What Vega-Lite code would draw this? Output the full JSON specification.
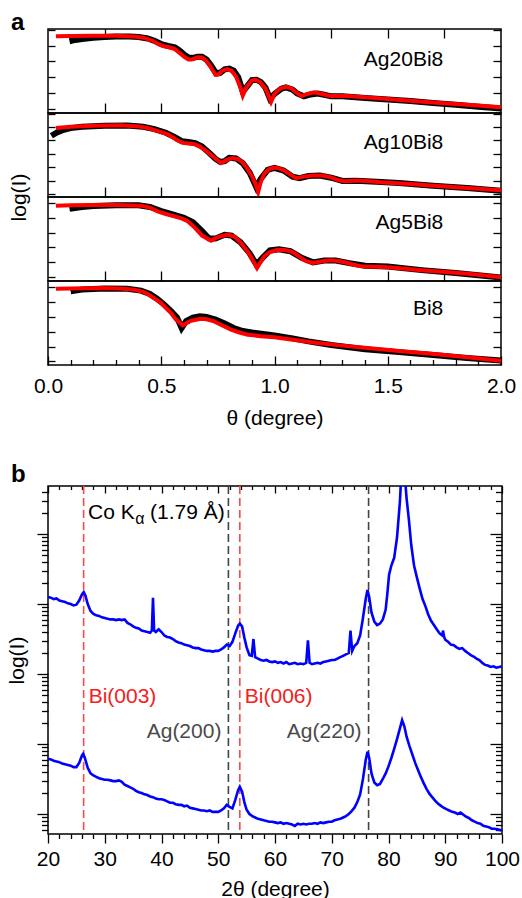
{
  "$schema": "https://vega.github.io/schema/vega-lite/v6.json",
  "background": "white",
  "padding": {"left": 5, "top": 10, "right": 2, "bottom": 0},
  "config": {
    "font": "Liberation Sans",
    "view": {"stroke": "black", "strokeWidth": 1.5},
    "axis": {"grid": false, "domain": false, "tickColor": "black", "tickWidth": 1.3, "labelFont": "Liberation Sans", "labelFontSize": 21, "labelColor": "black", "titleFont": "Liberation Sans", "titleFontSize": 21, "titleFontWeight": "normal", "titleColor": "black"},
    "title": {"font": "Liberation Sans", "fontSize": 24, "fontWeight": "bold", "color": "black", "anchor": "start", "frame": "group", "baseline": "alphabetic"},
    "text": {"font": "Liberation Sans", "fontSize": 21, "color": "black"}
  },
  "datasets": {
    "Ag20Bi8_measured": [
      {"theta":0.095,"logI":4.28},{"theta":0.12,"logI":4.36},{"theta":0.15,"logI":4.42},{"theta":0.2,"logI":4.5},{"theta":0.25,"logI":4.55},{"theta":0.3,"logI":4.58},{"theta":0.36,"logI":4.58},{"theta":0.4,"logI":4.55},{"theta":0.44,"logI":4.45},{"theta":0.47,"logI":4.3},{"theta":0.5,"logI":4.1},{"theta":0.53,"logI":3.98},{"theta":0.56,"logI":3.9},{"theta":0.58,"logI":3.7},{"theta":0.6,"logI":3.45},{"theta":0.62,"logI":3.25},{"theta":0.64,"logI":3.22},{"theta":0.66,"logI":3.3},{"theta":0.68,"logI":3.3},{"theta":0.7,"logI":3.12},{"theta":0.72,"logI":2.75},{"theta":0.74,"logI":2.3},{"theta":0.76,"logI":2.28},{"theta":0.78,"logI":2.5},{"theta":0.8,"logI":2.55},{"theta":0.82,"logI":2.42},{"theta":0.84,"logI":2.0},{"theta":0.86,"logI":1.1},{"theta":0.88,"logI":1.45},{"theta":0.9,"logI":1.82},{"theta":0.92,"logI":1.85},{"theta":0.94,"logI":1.7},{"theta":0.96,"logI":1.35},{"theta":0.98,"logI":0.65},{"theta":1.0,"logI":0.95},{"theta":1.03,"logI":1.28},{"theta":1.05,"logI":1.36},{"theta":1.08,"logI":1.22},{"theta":1.1,"logI":0.98},{"theta":1.13,"logI":0.8},{"theta":1.16,"logI":0.92},{"theta":1.19,"logI":0.98},{"theta":1.22,"logI":0.9},{"theta":1.25,"logI":0.8},{"theta":1.3,"logI":0.8},{"theta":1.4,"logI":0.7},{"theta":1.5,"logI":0.6},{"theta":1.6,"logI":0.5},{"theta":1.7,"logI":0.38},{"theta":1.8,"logI":0.27},{"theta":1.9,"logI":0.15},{"theta":2.0,"logI":0.03}
    ],
    "Ag20Bi8_fit": [
      {"theta":0.035,"logI":4.6},{"theta":0.1,"logI":4.61},{"theta":0.2,"logI":4.62},{"theta":0.3,"logI":4.62},{"theta":0.38,"logI":4.58},{"theta":0.42,"logI":4.5},{"theta":0.46,"logI":4.32},{"theta":0.49,"logI":4.08},{"theta":0.51,"logI":3.97},{"theta":0.54,"logI":3.88},{"theta":0.56,"logI":3.78},{"theta":0.58,"logI":3.55},{"theta":0.6,"logI":3.3},{"theta":0.62,"logI":3.13},{"theta":0.635,"logI":3.12},{"theta":0.66,"logI":3.27},{"theta":0.68,"logI":3.25},{"theta":0.7,"logI":3.02},{"theta":0.72,"logI":2.62},{"theta":0.74,"logI":2.15},{"theta":0.75,"logI":2.16},{"theta":0.77,"logI":2.42},{"theta":0.79,"logI":2.52},{"theta":0.81,"logI":2.42},{"theta":0.83,"logI":2.05},{"theta":0.85,"logI":1.35},{"theta":0.86,"logI":0.85},{"theta":0.875,"logI":1.35},{"theta":0.9,"logI":1.8},{"theta":0.915,"logI":1.85},{"theta":0.935,"logI":1.72},{"theta":0.96,"logI":1.3},{"theta":0.975,"logI":0.8},{"theta":0.985,"logI":0.45},{"theta":1.0,"logI":0.95},{"theta":1.025,"logI":1.3},{"theta":1.05,"logI":1.4},{"theta":1.075,"logI":1.3},{"theta":1.1,"logI":1.0},{"theta":1.12,"logI":0.82},{"theta":1.145,"logI":0.95},{"theta":1.175,"logI":1.05},{"theta":1.21,"logI":0.95},{"theta":1.245,"logI":0.82},{"theta":1.28,"logI":0.82},{"theta":1.32,"logI":0.83},{"theta":1.4,"logI":0.74},{"theta":1.5,"logI":0.64},{"theta":1.6,"logI":0.53},{"theta":1.7,"logI":0.42},{"theta":1.8,"logI":0.32},{"theta":1.9,"logI":0.22},{"theta":2.0,"logI":0.12}
    ],
    "Ag10Bi8_measured": [
      {"theta":0.015,"logI":4.35},{"theta":0.04,"logI":4.6},{"theta":0.07,"logI":4.8},{"theta":0.1,"logI":4.92},{"theta":0.15,"logI":5.02},{"theta":0.25,"logI":5.1},{"theta":0.35,"logI":5.12},{"theta":0.42,"logI":5.02},{"theta":0.47,"logI":4.85},{"theta":0.52,"logI":4.58},{"theta":0.56,"logI":4.25},{"theta":0.59,"logI":3.95},{"theta":0.62,"logI":3.88},{"theta":0.65,"logI":3.8},{"theta":0.68,"logI":3.55},{"theta":0.71,"logI":3.1},{"theta":0.74,"logI":2.62},{"theta":0.76,"logI":2.4},{"theta":0.78,"logI":2.45},{"theta":0.8,"logI":2.7},{"theta":0.83,"logI":2.66},{"theta":0.86,"logI":2.3},{"theta":0.89,"logI":1.6},{"theta":0.92,"logI":0.5},{"theta":0.94,"logI":1.15},{"theta":0.97,"logI":1.8},{"theta":1.0,"logI":1.95},{"theta":1.04,"logI":1.75},{"theta":1.08,"logI":1.3},{"theta":1.11,"logI":1.18},{"theta":1.15,"logI":1.35},{"theta":1.2,"logI":1.38},{"theta":1.25,"logI":1.22},{"theta":1.3,"logI":0.98},{"theta":1.36,"logI":1.0},{"theta":1.45,"logI":0.92},{"theta":1.55,"logI":0.82},{"theta":1.7,"logI":0.62},{"theta":1.85,"logI":0.45},{"theta":2.0,"logI":0.25}
    ],
    "Ag10Bi8_fit": [
      {"theta":0.035,"logI":4.93},{"theta":0.1,"logI":5.02},{"theta":0.2,"logI":5.1},{"theta":0.32,"logI":5.13},{"theta":0.4,"logI":5.05},{"theta":0.44,"logI":4.93},{"theta":0.49,"logI":4.68},{"theta":0.53,"logI":4.45},{"theta":0.57,"logI":4.02},{"theta":0.595,"logI":3.82},{"theta":0.62,"logI":3.78},{"theta":0.646,"logI":3.73},{"theta":0.67,"logI":3.55},{"theta":0.69,"logI":3.31},{"theta":0.71,"logI":3.05},{"theta":0.73,"logI":2.78},{"theta":0.764,"logI":2.31},{"theta":0.79,"logI":2.55},{"theta":0.815,"logI":2.69},{"theta":0.84,"logI":2.6},{"theta":0.86,"logI":2.35},{"theta":0.88,"logI":1.9},{"theta":0.9,"logI":1.35},{"theta":0.915,"logI":0.8},{"theta":0.928,"logI":0.15},{"theta":0.94,"logI":0.95},{"theta":0.955,"logI":1.52},{"theta":0.975,"logI":1.85},{"theta":1.0,"logI":1.98},{"theta":1.02,"logI":1.92},{"theta":1.045,"logI":1.74},{"theta":1.07,"logI":1.45},{"theta":1.095,"logI":1.19},{"theta":1.13,"logI":1.3},{"theta":1.17,"logI":1.39},{"theta":1.21,"logI":1.38},{"theta":1.25,"logI":1.25},{"theta":1.28,"logI":1.05},{"theta":1.31,"logI":0.95},{"theta":1.367,"logI":1.02},{"theta":1.42,"logI":0.95},{"theta":1.485,"logI":0.87},{"theta":1.6,"logI":0.75},{"theta":1.706,"logI":0.62},{"theta":1.85,"logI":0.45},{"theta":2.0,"logI":0.28}
    ],
    "Ag5Bi8_measured": [
      {"theta":0.095,"logI":4.6},{"theta":0.15,"logI":4.72},{"theta":0.2,"logI":4.78},{"theta":0.3,"logI":4.83},{"theta":0.4,"logI":4.83},{"theta":0.45,"logI":4.72},{"theta":0.5,"logI":4.45},{"theta":0.55,"logI":4.22},{"theta":0.6,"logI":4.0},{"theta":0.64,"logI":3.7},{"theta":0.68,"logI":3.1},{"theta":0.71,"logI":2.62},{"theta":0.74,"logI":2.6},{"theta":0.78,"logI":2.85},{"theta":0.81,"logI":2.8},{"theta":0.85,"logI":2.35},{"theta":0.89,"logI":1.62},{"theta":0.92,"logI":0.85},{"theta":0.95,"logI":1.35},{"theta":0.98,"logI":1.8},{"theta":1.02,"logI":1.88},{"theta":1.07,"logI":1.75},{"theta":1.12,"logI":1.3},{"theta":1.17,"logI":1.0},{"theta":1.22,"logI":1.12},{"theta":1.27,"logI":1.12},{"theta":1.33,"logI":0.95},{"theta":1.4,"logI":0.78},{"theta":1.5,"logI":0.72},{"theta":1.65,"logI":0.48},{"theta":1.8,"logI":0.28},{"theta":2.0,"logI":-0.02}
    ],
    "Ag5Bi8_fit": [
      {"theta":0.035,"logI":4.81},{"theta":0.1,"logI":4.84},{"theta":0.2,"logI":4.86},{"theta":0.3,"logI":4.86},{"theta":0.41,"logI":4.81},{"theta":0.45,"logI":4.68},{"theta":0.484,"logI":4.43},{"theta":0.52,"logI":4.25},{"theta":0.558,"logI":4.09},{"theta":0.59,"logI":3.95},{"theta":0.617,"logI":3.76},{"theta":0.65,"logI":3.3},{"theta":0.68,"logI":2.8},{"theta":0.72,"logI":2.46},{"theta":0.75,"logI":2.7},{"theta":0.793,"logI":2.86},{"theta":0.825,"logI":2.72},{"theta":0.852,"logI":2.3},{"theta":0.875,"logI":1.85},{"theta":0.89,"logI":1.52},{"theta":0.908,"logI":1.05},{"theta":0.923,"logI":0.62},{"theta":0.94,"logI":1.05},{"theta":0.955,"logI":1.41},{"theta":0.98,"logI":1.7},{"theta":1.014,"logI":1.85},{"theta":1.045,"logI":1.83},{"theta":1.073,"logI":1.74},{"theta":1.095,"logI":1.55},{"theta":1.117,"logI":1.3},{"theta":1.14,"logI":1.08},{"theta":1.169,"logI":0.96},{"theta":1.21,"logI":1.08},{"theta":1.25,"logI":1.14},{"theta":1.29,"logI":1.08},{"theta":1.323,"logI":0.96},{"theta":1.35,"logI":0.84},{"theta":1.382,"logI":0.74},{"theta":1.44,"logI":0.7},{"theta":1.5,"logI":0.67},{"theta":1.58,"logI":0.57},{"theta":1.66,"logI":0.45},{"theta":1.76,"logI":0.35},{"theta":1.853,"logI":0.24},{"theta":1.93,"logI":0.12},{"theta":2.0,"logI":0.0}
    ],
    "Bi8_measured": [
      {"theta":0.1,"logI":4.73},{"theta":0.15,"logI":4.85},{"theta":0.25,"logI":4.92},{"theta":0.35,"logI":4.9},{"theta":0.41,"logI":4.78},{"theta":0.45,"logI":4.55},{"theta":0.48,"logI":4.25},{"theta":0.51,"logI":3.88},{"theta":0.54,"logI":3.45},{"theta":0.57,"logI":2.95},{"theta":0.59,"logI":2.25},{"theta":0.61,"logI":2.72},{"theta":0.64,"logI":2.95},{"theta":0.67,"logI":3.05},{"theta":0.7,"logI":3.0},{"theta":0.74,"logI":2.82},{"theta":0.78,"logI":2.55},{"theta":0.82,"logI":2.25},{"theta":0.86,"logI":2.05},{"theta":0.9,"logI":1.95},{"theta":0.95,"logI":1.85},{"theta":1.0,"logI":1.75},{"theta":1.08,"logI":1.55},{"theta":1.15,"logI":1.35},{"theta":1.25,"logI":1.1},{"theta":1.4,"logI":0.82},{"theta":1.55,"logI":0.62},{"theta":1.7,"logI":0.42},{"theta":1.85,"logI":0.22},{"theta":2.0,"logI":0.05}
    ],
    "Bi8_fit": [
      {"theta":0.035,"logI":4.91},{"theta":0.1,"logI":4.93},{"theta":0.234,"logI":4.95},{"theta":0.32,"logI":4.93},{"theta":0.381,"logI":4.84},{"theta":0.42,"logI":4.7},{"theta":0.44,"logI":4.55},{"theta":0.47,"logI":4.25},{"theta":0.499,"logI":3.94},{"theta":0.52,"logI":3.62},{"theta":0.543,"logI":3.26},{"theta":0.565,"logI":2.82},{"theta":0.595,"logI":2.43},{"theta":0.631,"logI":2.74},{"theta":0.675,"logI":2.88},{"theta":0.7,"logI":2.84},{"theta":0.734,"logI":2.7},{"theta":0.77,"logI":2.42},{"theta":0.808,"logI":2.14},{"theta":0.845,"logI":1.95},{"theta":0.882,"logI":1.8},{"theta":0.94,"logI":1.7},{"theta":0.999,"logI":1.62},{"theta":1.09,"logI":1.44},{"theta":1.19,"logI":1.24},{"theta":1.3,"logI":1.06},{"theta":1.41,"logI":0.9},{"theta":1.55,"logI":0.7},{"theta":1.706,"logI":0.49},{"theta":1.85,"logI":0.27},{"theta":2.0,"logI":0.04}
    ],
    "xrd_top": [
      {"tt":20.0,"logI":4.1},{"tt":20.5,"logI":4.09},{"tt":21.0,"logI":4.07},{"tt":21.5,"logI":4.08},{"tt":22.0,"logI":4.05},{"tt":22.5,"logI":4.04},{"tt":23.0,"logI":4.03},{"tt":23.5,"logI":4.01},{"tt":24.0,"logI":4.0},{"tt":24.5,"logI":3.98},{"tt":25.0,"logI":3.99},{"tt":25.5,"logI":4.05},{"tt":26.0,"logI":4.14},{"tt":26.3,"logI":4.17},{"tt":26.6,"logI":4.12},{"tt":27.0,"logI":4.0},{"tt":27.5,"logI":3.9},{"tt":28.0,"logI":3.86},{"tt":28.5,"logI":3.84},{"tt":29.0,"logI":3.83},{"tt":29.5,"logI":3.81},{"tt":30.0,"logI":3.8},{"tt":30.5,"logI":3.79},{"tt":31.0,"logI":3.78},{"tt":31.5,"logI":3.78},{"tt":32.0,"logI":3.77},{"tt":32.5,"logI":3.78},{"tt":33.0,"logI":3.77},{"tt":33.5,"logI":3.78},{"tt":34.0,"logI":3.73},{"tt":34.5,"logI":3.71},{"tt":35.0,"logI":3.68},{"tt":35.5,"logI":3.66},{"tt":36.0,"logI":3.65},{"tt":36.5,"logI":3.62},{"tt":37.0,"logI":3.61},{"tt":37.5,"logI":3.6},{"tt":38.0,"logI":3.59},{"tt":38.3,"logI":3.62},{"tt":38.5,"logI":4.09},{"tt":38.7,"logI":3.62},{"tt":39.0,"logI":3.6},{"tt":39.5,"logI":3.64},{"tt":40.0,"logI":3.6},{"tt":40.5,"logI":3.55},{"tt":41.0,"logI":3.53},{"tt":41.5,"logI":3.52},{"tt":42.0,"logI":3.5},{"tt":42.5,"logI":3.47},{"tt":43.0,"logI":3.45},{"tt":43.5,"logI":3.44},{"tt":44.0,"logI":3.42},{"tt":44.5,"logI":3.41},{"tt":45.0,"logI":3.4},{"tt":45.5,"logI":3.38},{"tt":46.0,"logI":3.37},{"tt":46.5,"logI":3.37},{"tt":47.0,"logI":3.35},{"tt":47.5,"logI":3.34},{"tt":48.0,"logI":3.33},{"tt":48.5,"logI":3.33},{"tt":49.0,"logI":3.32},{"tt":49.5,"logI":3.33},{"tt":50.0,"logI":3.33},{"tt":50.5,"logI":3.35},{"tt":51.0,"logI":3.38},{"tt":51.5,"logI":3.42},{"tt":52.0,"logI":3.4},{"tt":52.5,"logI":3.46},{"tt":53.0,"logI":3.58},{"tt":53.5,"logI":3.69},{"tt":53.8,"logI":3.72},{"tt":54.2,"logI":3.68},{"tt":54.6,"logI":3.52},{"tt":55.0,"logI":3.38},{"tt":55.5,"logI":3.27},{"tt":55.9,"logI":3.26},{"tt":56.2,"logI":3.5},{"tt":56.5,"logI":3.24},{"tt":57.0,"logI":3.22},{"tt":57.5,"logI":3.2},{"tt":58.0,"logI":3.19},{"tt":58.5,"logI":3.2},{"tt":59.0,"logI":3.18},{"tt":59.5,"logI":3.17},{"tt":60.0,"logI":3.18},{"tt":60.5,"logI":3.16},{"tt":61.0,"logI":3.17},{"tt":61.5,"logI":3.15},{"tt":62.0,"logI":3.17},{"tt":62.5,"logI":3.14},{"tt":63.0,"logI":3.15},{"tt":63.5,"logI":3.16},{"tt":64.0,"logI":3.14},{"tt":64.5,"logI":3.15},{"tt":65.0,"logI":3.14},{"tt":65.5,"logI":3.16},{"tt":65.8,"logI":3.48},{"tt":66.1,"logI":3.16},{"tt":66.5,"logI":3.14},{"tt":67.0,"logI":3.15},{"tt":67.5,"logI":3.16},{"tt":68.0,"logI":3.15},{"tt":68.5,"logI":3.17},{"tt":69.0,"logI":3.18},{"tt":69.5,"logI":3.19},{"tt":70.0,"logI":3.2},{"tt":70.5,"logI":3.2},{"tt":71.0,"logI":3.22},{"tt":71.5,"logI":3.24},{"tt":72.0,"logI":3.26},{"tt":72.5,"logI":3.28},{"tt":73.0,"logI":3.3},{"tt":73.3,"logI":3.62},{"tt":73.6,"logI":3.33},{"tt":74.0,"logI":3.4},{"tt":74.5,"logI":3.44},{"tt":75.0,"logI":3.55},{"tt":75.5,"logI":3.8},{"tt":76.0,"logI":4.08},{"tt":76.3,"logI":4.2},{"tt":76.6,"logI":4.1},{"tt":77.0,"logI":3.88},{"tt":77.5,"logI":3.75},{"tt":78.0,"logI":3.7},{"tt":78.5,"logI":3.72},{"tt":79.0,"logI":3.78},{"tt":79.5,"logI":3.92},{"tt":79.8,"logI":4.15},{"tt":80.1,"logI":4.42},{"tt":80.5,"logI":4.55},{"tt":81.0,"logI":4.66},{"tt":81.5,"logI":4.95},{"tt":82.0,"logI":5.45},{"tt":82.3,"logI":5.9},{"tt":82.8,"logI":5.9},{"tt":83.2,"logI":5.5},{"tt":83.6,"logI":5.2},{"tt":84.0,"logI":4.85},{"tt":84.5,"logI":4.55},{"tt":85.0,"logI":4.38},{"tt":85.5,"logI":4.22},{"tt":86.0,"logI":4.07},{"tt":86.5,"logI":3.97},{"tt":87.0,"logI":3.85},{"tt":87.5,"logI":3.76},{"tt":88.0,"logI":3.7},{"tt":88.5,"logI":3.64},{"tt":89.0,"logI":3.58},{"tt":89.5,"logI":3.55},{"tt":89.6,"logI":3.62},{"tt":89.8,"logI":3.53},{"tt":90.0,"logI":3.49},{"tt":90.5,"logI":3.46},{"tt":91.0,"logI":3.42},{"tt":91.5,"logI":3.41},{"tt":92.0,"logI":3.38},{"tt":92.5,"logI":3.36},{"tt":93.0,"logI":3.37},{"tt":93.5,"logI":3.33},{"tt":94.0,"logI":3.3},{"tt":94.5,"logI":3.27},{"tt":95.0,"logI":3.25},{"tt":95.5,"logI":3.22},{"tt":96.0,"logI":3.2},{"tt":96.5,"logI":3.16},{"tt":97.0,"logI":3.13},{"tt":97.5,"logI":3.12},{"tt":98.0,"logI":3.1},{"tt":98.5,"logI":3.11},{"tt":99.0,"logI":3.09},{"tt":99.5,"logI":3.1},{"tt":100.0,"logI":3.11}
    ],
    "xrd_bottom": [
      {"tt":20.0,"logI":1.79},{"tt":20.5,"logI":1.78},{"tt":21.0,"logI":1.76},{"tt":21.5,"logI":1.75},{"tt":22.0,"logI":1.74},{"tt":22.5,"logI":1.72},{"tt":23.0,"logI":1.71},{"tt":23.5,"logI":1.7},{"tt":24.0,"logI":1.69},{"tt":24.5,"logI":1.67},{"tt":25.0,"logI":1.67},{"tt":25.5,"logI":1.73},{"tt":26.0,"logI":1.84},{"tt":26.2,"logI":1.86},{"tt":26.5,"logI":1.8},{"tt":27.0,"logI":1.66},{"tt":27.5,"logI":1.58},{"tt":28.0,"logI":1.55},{"tt":28.5,"logI":1.53},{"tt":29.0,"logI":1.51},{"tt":29.5,"logI":1.5},{"tt":30.0,"logI":1.49},{"tt":30.5,"logI":1.49},{"tt":31.0,"logI":1.48},{"tt":31.5,"logI":1.47},{"tt":32.0,"logI":1.47},{"tt":32.5,"logI":1.48},{"tt":33.0,"logI":1.46},{"tt":33.5,"logI":1.42},{"tt":34.0,"logI":1.4},{"tt":34.5,"logI":1.38},{"tt":35.0,"logI":1.36},{"tt":35.5,"logI":1.33},{"tt":36.0,"logI":1.31},{"tt":36.5,"logI":1.3},{"tt":37.0,"logI":1.28},{"tt":37.5,"logI":1.27},{"tt":38.0,"logI":1.25},{"tt":38.5,"logI":1.24},{"tt":39.0,"logI":1.22},{"tt":39.5,"logI":1.21},{"tt":40.0,"logI":1.21},{"tt":40.5,"logI":1.2},{"tt":41.0,"logI":1.18},{"tt":41.5,"logI":1.16},{"tt":42.0,"logI":1.16},{"tt":42.5,"logI":1.14},{"tt":43.0,"logI":1.13},{"tt":43.5,"logI":1.13},{"tt":44.0,"logI":1.11},{"tt":44.5,"logI":1.12},{"tt":45.0,"logI":1.09},{"tt":45.5,"logI":1.08},{"tt":46.0,"logI":1.07},{"tt":46.5,"logI":1.06},{"tt":47.0,"logI":1.05},{"tt":47.5,"logI":1.05},{"tt":48.0,"logI":1.04},{"tt":48.5,"logI":1.05},{"tt":49.0,"logI":1.03},{"tt":49.5,"logI":1.03},{"tt":50.0,"logI":1.03},{"tt":50.5,"logI":1.05},{"tt":51.0,"logI":1.08},{"tt":51.5,"logI":1.13},{"tt":52.0,"logI":1.1},{"tt":52.5,"logI":1.08},{"tt":53.0,"logI":1.2},{"tt":53.5,"logI":1.34},{"tt":53.8,"logI":1.39},{"tt":54.2,"logI":1.32},{"tt":54.6,"logI":1.17},{"tt":55.0,"logI":1.06},{"tt":55.5,"logI":1.0},{"tt":56.0,"logI":0.97},{"tt":56.5,"logI":0.95},{"tt":57.0,"logI":0.93},{"tt":57.5,"logI":0.92},{"tt":58.0,"logI":0.91},{"tt":58.5,"logI":0.9},{"tt":59.0,"logI":0.89},{"tt":59.5,"logI":0.89},{"tt":60.0,"logI":0.88},{"tt":60.5,"logI":0.87},{"tt":61.0,"logI":0.88},{"tt":61.5,"logI":0.86},{"tt":62.0,"logI":0.87},{"tt":62.5,"logI":0.86},{"tt":63.0,"logI":0.85},{"tt":63.5,"logI":0.83},{"tt":64.0,"logI":0.86},{"tt":64.5,"logI":0.85},{"tt":65.0,"logI":0.86},{"tt":65.5,"logI":0.85},{"tt":66.0,"logI":0.86},{"tt":66.5,"logI":0.86},{"tt":67.0,"logI":0.87},{"tt":67.5,"logI":0.86},{"tt":68.0,"logI":0.88},{"tt":68.5,"logI":0.87},{"tt":69.0,"logI":0.88},{"tt":69.5,"logI":0.89},{"tt":70.0,"logI":0.89},{"tt":70.5,"logI":0.91},{"tt":71.0,"logI":0.92},{"tt":71.5,"logI":0.93},{"tt":72.0,"logI":0.95},{"tt":72.5,"logI":0.97},{"tt":73.0,"logI":1.0},{"tt":73.5,"logI":1.04},{"tt":74.0,"logI":1.09},{"tt":74.5,"logI":1.17},{"tt":75.0,"logI":1.28},{"tt":75.5,"logI":1.5},{"tt":76.0,"logI":1.78},{"tt":76.3,"logI":1.89},{"tt":76.6,"logI":1.8},{"tt":77.0,"logI":1.58},{"tt":77.5,"logI":1.45},{"tt":78.0,"logI":1.41},{"tt":78.5,"logI":1.43},{"tt":79.0,"logI":1.5},{"tt":79.5,"logI":1.58},{"tt":80.0,"logI":1.68},{"tt":80.5,"logI":1.8},{"tt":81.0,"logI":1.93},{"tt":81.5,"logI":2.07},{"tt":82.0,"logI":2.22},{"tt":82.4,"logI":2.34},{"tt":82.8,"logI":2.25},{"tt":83.2,"logI":2.1},{"tt":83.7,"logI":1.97},{"tt":84.2,"logI":1.85},{"tt":84.7,"logI":1.73},{"tt":85.2,"logI":1.63},{"tt":85.7,"logI":1.53},{"tt":86.2,"logI":1.44},{"tt":86.7,"logI":1.36},{"tt":87.2,"logI":1.29},{"tt":87.7,"logI":1.24},{"tt":88.2,"logI":1.19},{"tt":88.7,"logI":1.15},{"tt":89.2,"logI":1.12},{"tt":89.7,"logI":1.09},{"tt":90.2,"logI":1.07},{"tt":90.7,"logI":1.05},{"tt":91.2,"logI":1.03},{"tt":91.7,"logI":1.02},{"tt":92.2,"logI":1.0},{"tt":92.7,"logI":1.02},{"tt":93.2,"logI":0.99},{"tt":93.7,"logI":0.96},{"tt":94.2,"logI":0.94},{"tt":94.7,"logI":0.91},{"tt":95.2,"logI":0.89},{"tt":95.7,"logI":0.87},{"tt":96.2,"logI":0.86},{"tt":96.7,"logI":0.83},{"tt":97.2,"logI":0.82},{"tt":97.7,"logI":0.81},{"tt":98.2,"logI":0.79},{"tt":98.7,"logI":0.79},{"tt":99.2,"logI":0.78},{"tt":99.7,"logI":0.77},{"tt":100.0,"logI":0.77}
    ],
    "peaks": [
      {"peak":"Bi(003)","phase":"Bi","tt":26.28},
      {"peak":"Ag(200)","phase":"Ag","tt":51.79},
      {"peak":"Bi(006)","phase":"Bi","tt":53.8},
      {"peak":"Ag(220)","phase":"Ag","tt":76.49}
    ]
  },
  "spacing": 32,
  "vconcat": [
    {
      "title": {"text": "a", "dx": -37, "offset": -7},
      "spacing": 0,
      "bounds": "flush",
      "vconcat": [
        {
          "width": 453, "height": 84,
          "layer": [
            {"data": {"name": "Ag20Bi8_measured"}, "mark": {"type": "line", "color": "black", "strokeWidth": 6, "clip": true},
             "encoding": {
               "x": {"field": "theta", "type": "quantitative", "scale": {"domain": [0, 2], "nice": false}, "axis": {"orient": "top", "values": [0.25,0.5,0.75,1,1.25,1.5,1.75], "labels": false, "title": null, "tickSize": -9}},
               "y": {"field": "logI", "type": "quantitative", "scale": {"domain": [-0.25, 5.05], "nice": false, "zero": false}, "axis": {"orient": "left", "values": [0,1,2,3,4,5], "labels": false, "title": null, "tickSize": -7}}}},
            {"data": {"name": "Ag20Bi8_fit"}, "mark": {"type": "line", "color": "#ff0000", "strokeWidth": 4, "clip": true},
             "encoding": {
               "x": {"field": "theta", "type": "quantitative", "scale": {"domain": [0, 2], "nice": false}, "axis": {"orient": "bottom", "values": [0.25,0.5,0.75,1,1.25,1.5,1.75], "labels": false, "title": null, "tickSize": -10}},
               "y": {"field": "logI", "type": "quantitative", "scale": {"domain": [-0.25, 5.05], "nice": false, "zero": false}, "axis": {"orient": "right", "values": [0,1,2,3,4,5], "labels": false, "title": null, "tickSize": -8}}}},
            {"data": {"values": [{"sample": "Ag20Bi8"}]}, "mark": {"type": "text", "align": "right", "baseline": "alphabetic", "fontSize": 21},
             "encoding": {"x": {"datum": 1.745, "type": "quantitative", "axis": null}, "y": {"datum": 2.69, "type": "quantitative", "axis": null}, "text": {"field": "sample"}}}
          ],
          "resolve": {"axis": {"x": "independent", "y": "independent"}}
        },
        {
          "width": 453, "height": 84,
          "layer": [
            {"data": {"name": "Ag10Bi8_measured"}, "mark": {"type": "line", "color": "black", "strokeWidth": 6, "clip": true},
             "encoding": {
               "x": {"field": "theta", "type": "quantitative", "scale": {"domain": [0, 2], "nice": false}, "axis": null},
               "y": {"field": "logI", "type": "quantitative", "scale": {"domain": [-0.22, 6.05], "nice": false, "zero": false}, "axis": {"orient": "left", "values": [0,1,2,3,4,5,6], "labels": false, "title": "log(I)", "titleY": 84, "titlePadding": 18, "tickSize": -7}}}},
            {"data": {"name": "Ag10Bi8_fit"}, "mark": {"type": "line", "color": "#ff0000", "strokeWidth": 4, "clip": true},
             "encoding": {
               "x": {"field": "theta", "type": "quantitative", "scale": {"domain": [0, 2], "nice": false}, "axis": {"orient": "bottom", "values": [0.25,0.5,0.75,1,1.25,1.5,1.75], "labels": false, "title": null, "tickSize": -10}},
               "y": {"field": "logI", "type": "quantitative", "scale": {"domain": [-0.22, 6.05], "nice": false, "zero": false}, "axis": {"orient": "right", "values": [0,1,2,3,4,5,6], "labels": false, "title": null, "tickSize": -8}}}},
            {"data": {"values": [{"sample": "Ag10Bi8"}]}, "mark": {"type": "text", "align": "right", "baseline": "alphabetic", "fontSize": 21},
             "encoding": {"x": {"datum": 1.745, "type": "quantitative", "axis": null}, "y": {"datum": 3.38, "type": "quantitative", "axis": null}, "text": {"field": "sample"}}}
          ],
          "resolve": {"axis": {"x": "independent", "y": "independent"}}
        },
        {
          "width": 453, "height": 84,
          "layer": [
            {"data": {"name": "Ag5Bi8_measured"}, "mark": {"type": "line", "color": "black", "strokeWidth": 6, "clip": true},
             "encoding": {
               "x": {"field": "theta", "type": "quantitative", "scale": {"domain": [0, 2], "nice": false}, "axis": null},
               "y": {"field": "logI", "type": "quantitative", "scale": {"domain": [-0.25, 5.39], "nice": false, "zero": false}, "axis": {"orient": "left", "values": [0,1,2,3,4,5], "labels": false, "title": null, "tickSize": -7}}}},
            {"data": {"name": "Ag5Bi8_fit"}, "mark": {"type": "line", "color": "#ff0000", "strokeWidth": 4, "clip": true},
             "encoding": {
               "x": {"field": "theta", "type": "quantitative", "scale": {"domain": [0, 2], "nice": false}, "axis": {"orient": "bottom", "values": [0.25,0.5,0.75,1,1.25,1.5,1.75], "labels": false, "title": null, "tickSize": -10}},
               "y": {"field": "logI", "type": "quantitative", "scale": {"domain": [-0.25, 5.39], "nice": false, "zero": false}, "axis": {"orient": "right", "values": [0,1,2,3,4,5], "labels": false, "title": null, "tickSize": -8}}}},
            {"data": {"values": [{"sample": "Ag5Bi8"}]}, "mark": {"type": "text", "align": "right", "baseline": "alphabetic", "fontSize": 21},
             "encoding": {"x": {"datum": 1.745, "type": "quantitative", "axis": null}, "y": {"datum": 3.26, "type": "quantitative", "axis": null}, "text": {"field": "sample"}}}
          ],
          "resolve": {"axis": {"x": "independent", "y": "independent"}}
        },
        {
          "width": 453, "height": 84,
          "layer": [
            {"data": {"name": "Bi8_measured"}, "mark": {"type": "line", "color": "black", "strokeWidth": 6, "clip": true},
             "encoding": {
               "x": {"field": "theta", "type": "quantitative", "scale": {"domain": [0, 2], "nice": false}, "axis": null},
               "y": {"field": "logI", "type": "quantitative", "scale": {"domain": [-0.25, 5.43], "nice": false, "zero": false}, "axis": {"orient": "left", "values": [0,1,2,3,4,5], "labels": false, "title": null, "tickSize": -7}}}},
            {"data": {"name": "Bi8_fit"}, "mark": {"type": "line", "color": "#ff0000", "strokeWidth": 4, "clip": true},
             "encoding": {
               "x": {"field": "theta", "type": "quantitative", "scale": {"domain": [0, 2], "nice": false}, "axis": {"orient": "bottom", "values": [0,0.1,0.2,0.3,0.4,0.5,0.6,0.7,0.8,0.9,1,1.1,1.2,1.3,1.4,1.5,1.6,1.7,1.8,1.9,2], "tickSize": {"condition": {"test": "datum.value % 0.5 === 0", "value": -9}, "value": -5.5}, "labelExpr": "datum.value % 0.5 === 0 ? format(datum.value, '.1f') : ''", "labelPadding": 19, "labelFlush": false, "labelOverlap": false, "title": "θ (degree)", "titlePadding": 8}},
               "y": {"field": "logI", "type": "quantitative", "scale": {"domain": [-0.25, 5.43], "nice": false, "zero": false}, "axis": {"orient": "right", "values": [0,1,2,3,4,5], "labels": false, "title": null, "tickSize": -8}}}},
            {"data": {"values": [{"sample": "Bi8"}]}, "mark": {"type": "text", "align": "right", "baseline": "alphabetic", "fontSize": 21},
             "encoding": {"x": {"datum": 1.745, "type": "quantitative", "axis": null}, "y": {"datum": 3.11, "type": "quantitative", "axis": null}, "text": {"field": "sample"}}}
          ],
          "resolve": {"axis": {"x": "independent", "y": "independent"}}
        }
      ]
    },
    {
      "width": 454, "height": 348,
      "title": {"text": "b", "dx": -37, "offset": -2},
      "layer": [
        {"data": {"name": "peaks"}, "mark": {"type": "rule", "strokeDash": [8, 4], "strokeWidth": 1.6},
         "encoding": {
           "x": {"field": "tt", "type": "quantitative", "scale": {"domain": [20, 100], "nice": false}, "axis": null},
           "color": {"field": "phase", "type": "nominal", "scale": {"domain": ["Bi", "Ag"], "range": ["#ff4848", "#444444"]}, "legend": null}}},
        {"data": {"name": "xrd_top"}, "mark": {"type": "line", "color": "#0000ff", "strokeWidth": 2.6, "clip": true},
         "encoding": {
           "x": {"field": "tt", "type": "quantitative", "scale": {"domain": [20, 100], "nice": false}, "axis": {"orient": "bottom", "values": [20,22,24,26,28,30,32,34,36,38,40,42,44,46,48,50,52,54,56,58,60,62,64,66,68,70,72,74,76,78,80,82,84,86,88,90,92,94,96,98,100], "tickSize": {"condition": {"test": "datum.value % 10 === 0", "value": 9}, "value": 4.5}, "labelExpr": "datum.value % 10 === 0 ? datum.label : ''", "labelPadding": 5.5, "labelFlush": false, "labelOverlap": false, "title": "2θ (degree)", "titlePadding": 8.5}},
           "y": {"field": "logI", "type": "quantitative", "scale": {"domain": [0.714, 5.686], "nice": false, "zero": false}, "axis": {"orient": "left", "values": [0.77815,0.8451,0.90309,0.95424,1,1.30103,1.47712,1.60206,1.69897,1.77815,1.8451,1.90309,1.95424,2,2.30103,2.47712,2.60206,2.69897,2.77815,2.8451,2.90309,2.95424,3,3.30103,3.47712,3.60206,3.69897,3.77815,3.8451,3.90309,3.95424,4,4.30103,4.47712,4.60206,4.69897,4.77815,4.8451,4.90309,4.95424,5,5.30103,5.47712,5.60206], "tickSize": {"condition": {"test": "datum.value % 1 === 0", "value": 11}, "value": 6.5}, "labels": false, "title": "log(I)", "titlePadding": 9}}}},
        {"data": {"name": "xrd_bottom"}, "mark": {"type": "line", "color": "#0000ff", "strokeWidth": 2.6, "clip": true},
         "encoding": {
           "x": {"field": "tt", "type": "quantitative", "scale": {"domain": [20, 100], "nice": false}, "axis": {"orient": "top", "values": [20,22,24,26,28,30,32,34,36,38,40,42,44,46,48,50,52,54,56,58,60,62,64,66,68,70,72,74,76,78,80,82,84,86,88,90,92,94,96,98,100], "tickSize": {"condition": {"test": "datum.value % 10 === 0", "value": -7}, "value": -3.5}, "labels": false, "title": null}},
           "y": {"field": "logI", "type": "quantitative", "scale": {"domain": [0.714, 5.686], "nice": false, "zero": false}, "axis": {"orient": "right", "values": [0.77815,0.8451,0.90309,0.95424,1,1.30103,1.47712,1.60206,1.69897,1.77815,1.8451,1.90309,1.95424,2,2.30103,2.47712,2.60206,2.69897,2.77815,2.8451,2.90309,2.95424,3,3.30103,3.47712,3.60206,3.69897,3.77815,3.8451,3.90309,3.95424,4,4.30103,4.47712,4.60206,4.69897,4.77815,4.8451,4.90309,4.95424,5,5.30103,5.47712,5.60206], "tickSize": {"condition": {"test": "datum.value % 1 === 0", "value": -12}, "value": -6.5}, "labels": false, "title": null}}}},
        {"data": {"name": "peaks"}, "transform": [{"filter": "datum.phase === 'Bi'"}],
         "mark": {"type": "text", "align": "left", "baseline": "alphabetic", "dx": 5, "fontSize": 21, "color": "#f42020"},
         "encoding": {
           "x": {"field": "tt", "type": "quantitative", "axis": null},
           "y": {"datum": 2.59, "type": "quantitative", "axis": null},
           "text": {"field": "peak"}}},
        {"data": {"name": "peaks"}, "transform": [{"filter": "datum.phase === 'Ag'"}],
         "mark": {"type": "text", "align": "right", "baseline": "alphabetic", "dx": -7, "fontSize": 21, "color": "#4a4a4a"},
         "encoding": {
           "x": {"field": "tt", "type": "quantitative", "axis": null},
           "y": {"datum": 2.08, "type": "quantitative", "axis": null},
           "text": {"field": "peak"}}},
        {"data": {"values": [{"note": "Co K"}]},
         "mark": {"type": "text", "align": "left", "baseline": "alphabetic", "fontSize": 21, "color": "black"},
         "encoding": {"x": {"datum": 27.07, "type": "quantitative", "axis": null}, "y": {"datum": 5.22, "type": "quantitative", "axis": null}, "text": {"field": "note"}}},
        {"data": {"values": [{"note": "α"}]},
         "mark": {"type": "text", "align": "left", "baseline": "alphabetic", "fontSize": 16, "color": "black"},
         "encoding": {"x": {"datum": 35.39, "type": "quantitative", "axis": null}, "y": {"datum": 5.147, "type": "quantitative", "axis": null}, "text": {"field": "note"}}},
        {"data": {"values": [{"note": "(1.79 Å)"}]},
         "mark": {"type": "text", "align": "left", "baseline": "alphabetic", "fontSize": 21, "color": "black"},
         "encoding": {"x": {"datum": 37.99, "type": "quantitative", "axis": null}, "y": {"datum": 5.22, "type": "quantitative", "axis": null}, "text": {"field": "note"}}}
      ],
      "resolve": {"axis": {"x": "independent", "y": "independent"}}
    }
  ]
}
